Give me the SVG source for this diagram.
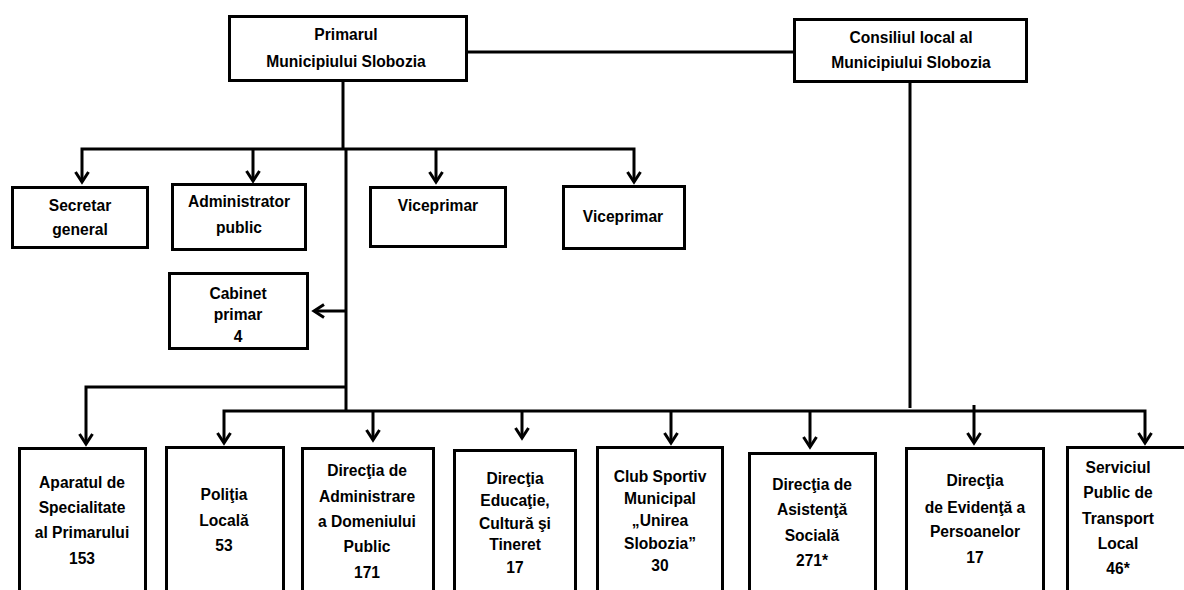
<svg xmlns="http://www.w3.org/2000/svg" width="1184" height="590" viewBox="0 0 1184 590">
<style>
.box{fill:#fff;stroke:#000;stroke-width:3}
.ln{fill:none;stroke:#000;stroke-width:3}
.t{font-family:"Liberation Sans",Arial,sans-serif;font-weight:bold;font-size:15.6px;text-anchor:middle;fill:#000}
</style>
<defs>
<marker id="arr" viewBox="-13 -9 16 18" markerWidth="16" markerHeight="18" refX="0" refY="0" orient="auto" markerUnits="userSpaceOnUse">
<path d="M-10,-6.5 L0,0 L-10,6.5" fill="none" stroke="#000" stroke-width="3"/>
</marker>
</defs>
<rect width="1184" height="590" fill="#fff"/>
<g id="connectors">
<path class="ln" d="M468,52 H794"/>
<path class="ln" d="M343,82 V149"/>
<path class="ln" d="M343,149 H82 V182" marker-end="url(#arr)"/>
<path class="ln" d="M343,149 H634 V182" marker-end="url(#arr)"/>
<path class="ln" d="M253,149 V181" marker-end="url(#arr)"/>
<path class="ln" d="M436,149 V182" marker-end="url(#arr)"/>
<path class="ln" d="M346,149 V411"/>
<path class="ln" d="M346,311 H314" marker-end="url(#arr)"/>
<path class="ln" d="M346,387 H86 V444" marker-end="url(#arr)"/>
<path class="ln" d="M346,411 H224 V443" marker-end="url(#arr)"/>
<path class="ln" d="M346,411 H1145 V443" marker-end="url(#arr)"/>
<path class="ln" d="M373,411 V440" marker-end="url(#arr)"/>
<path class="ln" d="M522,411 V438" marker-end="url(#arr)"/>
<path class="ln" d="M671,411 V443" marker-end="url(#arr)"/>
<path class="ln" d="M810,411 V447" marker-end="url(#arr)"/>
<path class="ln" d="M974,405 V443" marker-end="url(#arr)"/>
<path class="ln" d="M910,83 V408"/>
</g>
<g id="primar">
<rect class="box" x="229.5" y="16.5" width="237" height="64"/>
<text class="t" x="346" y="40">Primarul</text>
<text class="t" x="346" y="67">Municipiului Slobozia</text>
</g>
<g id="consiliu">
<rect class="box" x="794.5" y="19.5" width="232" height="62"/>
<text class="t" x="911" y="43">Consiliul local al</text>
<text class="t" x="911" y="68">Municipiului Slobozia</text>
</g>
<g id="secretar">
<rect class="box" x="12.5" y="187.5" width="135" height="60"/>
<text class="t" x="80" y="211">Secretar</text>
<text class="t" x="80" y="235">general</text>
</g>
<g id="administrator">
<rect class="box" x="172.5" y="184.5" width="133" height="65"/>
<text class="t" x="239" y="207">Administrator</text>
<text class="t" x="239" y="233">public</text>
</g>
<g id="viceprimar1">
<rect class="box" x="370.5" y="187.5" width="135" height="59"/>
<text class="t" x="438" y="211">Viceprimar</text>
</g>
<g id="viceprimar2">
<rect class="box" x="563.5" y="186.5" width="121" height="62"/>
<text class="t" x="623" y="222">Viceprimar</text>
</g>
<g id="cabinet">
<rect class="box" x="169.5" y="273.5" width="138" height="75"/>
<text class="t" x="238" y="299">Cabinet</text>
<text class="t" x="238" y="320">primar</text>
<text class="t" x="238" y="342">4</text>
</g>
<g id="aparatul">
<rect class="box" x="19.5" y="448.5" width="126" height="160"/>
<text class="t" x="82" y="488">Aparatul de</text>
<text class="t" x="82" y="513">Specialitate</text>
<text class="t" x="82" y="538">al Primarului</text>
<text class="t" x="82" y="564">153</text>
</g>
<g id="politia">
<rect class="box" x="166.5" y="447.5" width="117" height="160"/>
<text class="t" x="224" y="500">Poliţia</text>
<text class="t" x="224" y="526">Locală</text>
<text class="t" x="224" y="551">53</text>
</g>
<g id="dadp">
<rect class="box" x="302.5" y="448.5" width="131" height="160"/>
<text class="t" x="367" y="476">Direcţia de</text>
<text class="t" x="367" y="502">Administrare</text>
<text class="t" x="367" y="527">a Domeniului</text>
<text class="t" x="367" y="552">Public</text>
<text class="t" x="367" y="578">171</text>
</g>
<g id="dect">
<rect class="box" x="454.5" y="450.5" width="121" height="160"/>
<text class="t" x="515" y="484">Direcţia</text>
<text class="t" x="515" y="506">Educaţie,</text>
<text class="t" x="515" y="529">Cultură şi</text>
<text class="t" x="515" y="550">Tineret</text>
<text class="t" x="515" y="573">17</text>
</g>
<g id="club">
<rect class="box" x="597.5" y="447.5" width="125" height="160"/>
<text class="t" x="660" y="482">Club Sportiv</text>
<text class="t" x="660" y="504">Municipal</text>
<text class="t" x="660" y="526">„Unirea</text>
<text class="t" x="660" y="549">Slobozia”</text>
<text class="t" x="660" y="571">30</text>
</g>
<g id="das">
<rect class="box" x="749.5" y="453.5" width="126" height="160"/>
<text class="t" x="812" y="490">Direcţia de</text>
<text class="t" x="812" y="515">Asistenţă</text>
<text class="t" x="812" y="541">Socială</text>
<text class="t" x="812" y="566">271*</text>
</g>
<g id="dep">
<rect class="box" x="906.5" y="448.5" width="137" height="160"/>
<text class="t" x="975" y="486">Direcţia</text>
<text class="t" x="975" y="513">de Evidenţă a</text>
<text class="t" x="975" y="537">Persoanelor</text>
<text class="t" x="975" y="563">17</text>
</g>
<g id="transport">
<rect class="box" x="1067.5" y="447.5" width="130" height="160"/>
<text class="t" x="1118" y="473">Serviciul</text>
<text class="t" x="1118" y="498">Public de</text>
<text class="t" x="1118" y="524">Transport</text>
<text class="t" x="1118" y="549">Local</text>
<text class="t" x="1118" y="574">46*</text>
</g>
</svg>
